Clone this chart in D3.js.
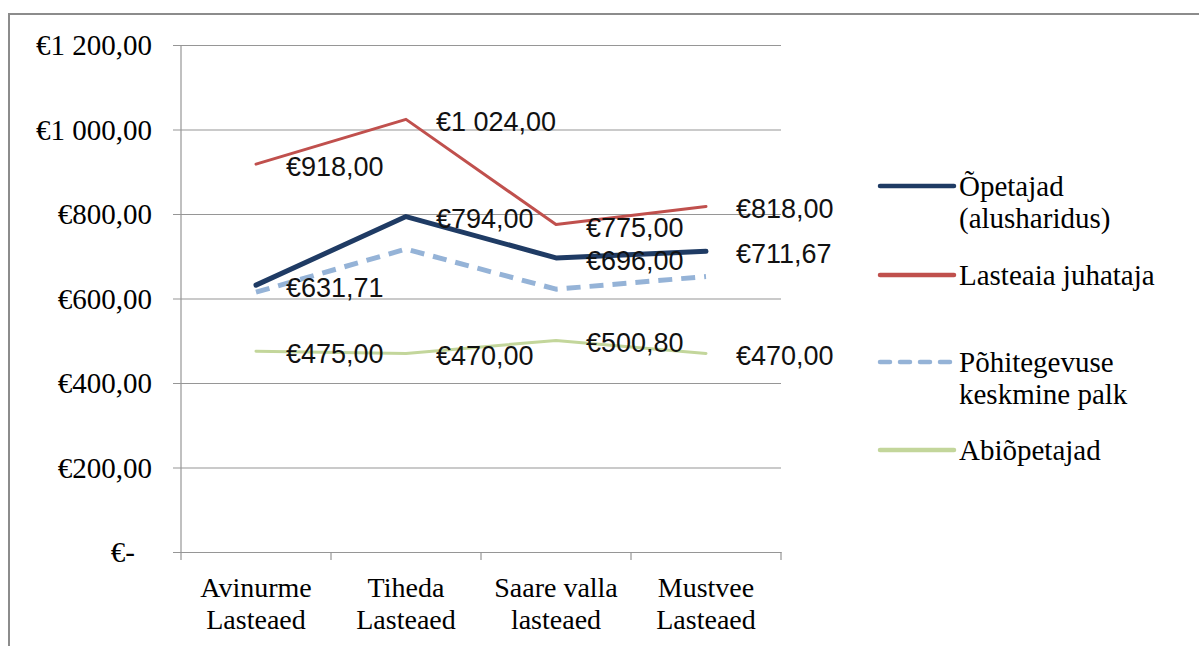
<!DOCTYPE html>
<html>
<head>
<meta charset="utf-8">
<script src="https://cdn.jsdelivr.net/npm/d3@7"></script>
<style>
  html, body { margin: 0; padding: 0; background: #ffffff; }
  svg { display: block; }
</style>
</head>
<body>
<svg id="chart" width="1199" height="646"></svg>
<script>
// Kindergartens (two-line category labels)
const categories = [
  ["Avinurme", "Lasteaed"],
  ["Tiheda", "Lasteaed"],
  ["Saare valla", "lasteaed"],
  ["Mustvee", "Lasteaed"]
];

// Monthly wages per kindergarten, €
const opetajad = [631.71, 794.00, 696.00, 711.67];
const juhataja = [918.00, 1024.00, 775.00, 818.00];
const pohitegevus = [615, 717, 622, 652];
const abiopetajad = [475.00, 470.00, 500.80, 470.00];

const seriesNames = [
  ["Õpetajad", "(alusharidus)"],
  ["Lasteaia juhataja"],
  ["Põhitegevuse", "keskmine palk"],
  ["Abiõpetajad"]
];

const yTicks = [0, 200, 400, 600, 800, 1000, 1200];

const series = [
  { name: seriesNames[0], values: opetajad,    color: "#1f3b64", width: 5, dash: null,   labels: true,  legendY: 186 },
  { name: seriesNames[1], values: juhataja,    color: "#c0504d", width: 3, dash: null,   labels: true,  legendY: 275 },
  { name: seriesNames[2], values: pohitegevus, color: "#95b3d7", width: 5, dash: "14,9", labels: false, legendY: 362 },
  { name: seriesNames[3], values: abiopetajad, color: "#c3d69b", width: 3, dash: null,   labels: true,  legendY: 450 }
];

const svg = d3.select("#chart");

// outer chart frame (continues past the right and bottom edges)
svg.append("path")
  .attr("d", "M9,660 L9,14 L1215,14")
  .attr("fill", "none")
  .attr("stroke", "#8c8c8c")
  .attr("stroke-width", 2);

const plot = { left: 181, right: 781, top: 45, bottom: 552 };

const x = d3.scaleBand()
  .domain(categories.map((d, i) => i))
  .range([plot.left, plot.right])
  .padding(0);
const cx = i => x(i) + x.bandwidth() / 2;

const y = d3.scaleLinear().domain([0, 1200]).range([plot.bottom, plot.top]);

const locale = d3.formatLocale({ decimal: ",", thousands: "\u00a0", grouping: [3], currency: ["€", ""] });
const money = locale.format("$,.2f");
const yLabel = v => v === 0 ? "€-" : money(v);

// gridlines + y axis
const yAxis = d3.axisLeft(y)
  .tickValues(yTicks)
  .tickSize(plot.right - plot.left + 8)
  .tickFormat(yLabel);

const gy = svg.append("g")
  .attr("transform", `translate(${plot.right},0)`)
  .call(yAxis);
gy.select(".domain").remove();
gy.selectAll(".tick line").attr("stroke", "#969696").attr("stroke-width", 1.2);
gy.selectAll(".tick text")
  .attr("x", -(plot.right - plot.left) - 29)
  .attr("dx", d => d === 0 ? -17 : 0)
  .attr("dy", "0.34em")
  .attr("fill", "#000")
  .style("font-family", "'Liberation Serif', 'Times New Roman', serif")
  .style("font-size", "29px");

// vertical axis line
svg.append("line")
  .attr("x1", plot.left).attr("x2", plot.left)
  .attr("y1", plot.top).attr("y2", plot.bottom)
  .attr("stroke", "#969696").attr("stroke-width", 1.2);

// category axis
const xAxis = d3.axisBottom(x).tickSize(0).tickFormat(() => "");
const gx = svg.append("g").attr("transform", `translate(0,${plot.bottom})`).call(xAxis);
gx.select(".domain").attr("stroke", "#969696").attr("stroke-width", 1.2);
gx.selectAll(".tick").remove();

// category dividers
const dividers = categories.map((d, i) => x(i)).concat([plot.right]);
svg.selectAll("line.div").data(dividers).enter().append("line")
  .attr("class", "div")
  .attr("x1", d => d).attr("x2", d => d)
  .attr("y1", plot.bottom).attr("y2", plot.bottom + 8)
  .attr("stroke", "#969696").attr("stroke-width", 1.2);

// category labels
const catText = svg.selectAll("text.cat").data(categories).enter().append("text")
  .attr("class", "cat")
  .attr("text-anchor", "middle")
  .attr("fill", "#000")
  .style("font-family", "'Liberation Serif', 'Times New Roman', serif")
  .style("font-size", "28px");
catText.each(function (d, i) {
  const t = d3.select(this);
  d.forEach((line, k) => {
    t.append("tspan").attr("x", cx(i)).attr("y", 597 + k * 32).text(line);
  });
});

// lines
const line = d3.line().x((d, i) => cx(i)).y(d => y(d));
const drawOrder = [2, 0, 1, 3];
drawOrder.forEach(si => {
  const s = series[si];
  svg.append("path")
    .datum(s.values)
    .attr("fill", "none")
    .attr("stroke", s.color)
    .attr("stroke-width", s.width)
    .attr("stroke-linejoin", "round")
    .attr("stroke-linecap", s.dash ? "butt" : "round")
    .attr("stroke-dasharray", s.dash)
    .attr("d", line);
});

// data labels
series.filter(s => s.labels).forEach(s => {
  svg.append("g").selectAll("text").data(s.values).enter().append("text")
    .attr("x", (d, i) => cx(i) + 30)
    .attr("y", d => y(d) + 2.5)
    .attr("dy", "0.35em")
    .attr("fill", "#111")
    .style("font-family", "'Liberation Sans', Arial, sans-serif")
    .style("font-size", "27px")
    .text(d => money(d));
});

// legend
const legend = svg.append("g");
series.forEach(s => {
  legend.append("line")
    .attr("x1", 880).attr("x2", 954)
    .attr("y1", s.legendY).attr("y2", s.legendY)
    .attr("stroke", s.color)
    .attr("stroke-width", 4.5)
    .attr("stroke-linecap", "round")
    .attr("stroke-dasharray", s.dash ? "10,10" : null);
  const t = legend.append("text")
    .attr("fill", "#000")
    .style("font-family", "'Liberation Serif', 'Times New Roman', serif")
    .style("font-size", "29px");
  s.name.forEach((ln, k) => {
    t.append("tspan").attr("x", 959).attr("y", s.legendY + k * 32).attr("dy", "0.33em").text(ln);
  });
});
</script>
</body>
</html>
